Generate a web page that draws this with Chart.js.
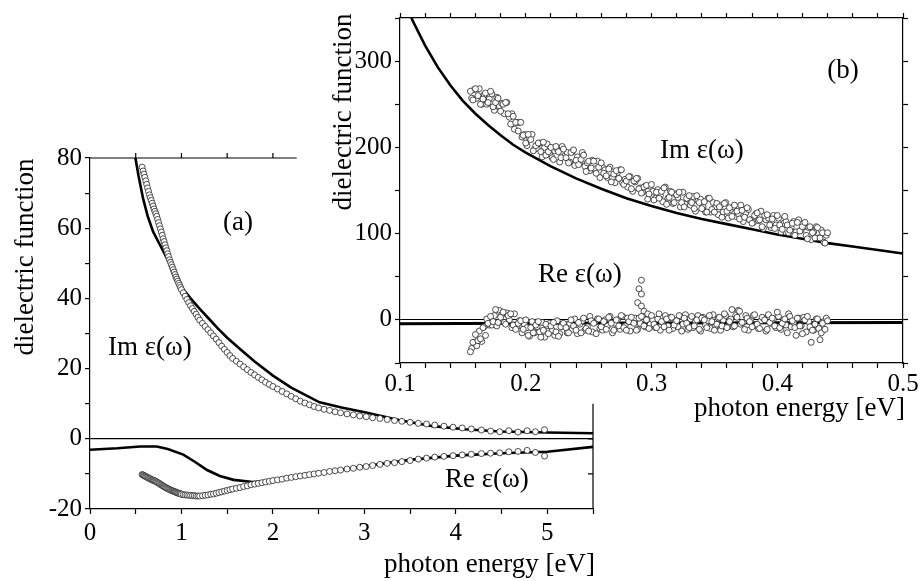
<!DOCTYPE html>
<html>
<head>
<meta charset="utf-8">
<script src="https://cdn.jsdelivr.net/npm/chart.js@4/dist/chart.umd.min.js"></script>
<style>
  body { margin: 0; background: #fff; }
  #wrap { position: relative; width: 920px; height: 581px; }
  canvas { position: absolute; left: 0; top: 0; }
</style>
</head>
<body>
<div id="wrap">
  <canvas id="mainChart" width="920" height="581"></canvas>
  <canvas id="insetChart" width="920" height="581"></canvas>
</div>
<script>
// ---- panel (a): 0 - 5.5 eV ----
const mainEnergy = [
  0.57, 0.58, 0.59, 0.60, 0.61, 0.62, 0.63, 0.64, 0.65, 0.66, 0.67, 0.68, 0.69, 0.70, 0.71,
  0.72, 0.73, 0.74, 0.75, 0.76, 0.77, 0.78, 0.79, 0.80, 0.81, 0.82, 0.83, 0.84, 0.85, 0.86,
  0.87, 0.88, 0.89, 0.90, 0.91, 0.92, 0.93, 0.94, 0.95, 0.96, 0.97, 0.98, 0.99, 1.00,
  1.02, 1.04, 1.06, 1.08, 1.10, 1.12, 1.14, 1.16, 1.18, 1.20,
  1.23, 1.26, 1.29, 1.32, 1.35, 1.38, 1.41, 1.44, 1.47, 1.50, 1.53, 1.56,
  1.60, 1.64, 1.68, 1.72, 1.76, 1.80, 1.84, 1.88, 1.92, 1.96, 2.00,
  2.05, 2.10, 2.15, 2.20, 2.25, 2.30, 2.35, 2.40, 2.45, 2.50,
  2.56, 2.62, 2.68, 2.74, 2.81, 2.88, 2.95, 3.02, 3.09, 3.17, 3.25, 3.33, 3.41,
  3.50, 3.59, 3.68, 3.77, 3.87, 3.97, 4.07, 4.17,
  4.28, 4.38, 4.48, 4.58, 4.68, 4.78, 4.87, 4.97
];
const mainImData = [
  77.4, 76.3, 75.4, 74.5, 73.5, 72.5, 71.5, 70.5, 69.5, 68.7, 67.9, 67.1, 66.3, 65.5, 64.8,
  64.1, 63.4, 62.5, 61.6, 60.7, 59.8, 58.9, 58.0, 57.0, 56.2, 55.3, 54.4, 53.6, 52.7, 51.9,
  51.0, 50.3, 49.6, 48.9, 48.2, 47.5, 46.8, 46.1, 45.5, 44.9, 44.3, 43.7, 43.1, 42.5,
  41.6, 40.6, 39.7, 38.8, 37.9, 37.1, 36.3, 35.5, 34.6, 33.8,
  32.9, 32.0, 31.1, 30.2, 29.3, 28.4, 27.4, 26.4, 25.5, 24.6, 23.7, 22.9,
  22.1, 21.3, 20.5, 19.7, 18.9, 18.2, 17.5, 16.8, 16.1, 15.5, 14.9,
  14.2, 13.5, 12.8, 12.1, 11.4, 10.7, 10.2, 9.7, 9.2, 8.8,
  8.4, 8.1, 7.7, 7.4, 7.1, 6.8, 6.5, 6.3, 6.0, 5.8, 5.5, 5.2, 5.0,
  4.7, 4.4, 4.2, 3.9, 3.6, 3.3, 3.1, 2.8,
  2.5, 2.2, 2.0, 2.3, 1.9, 2.3, 2.0, 2.6
];
const mainReData = [
  -10.2, -10.3, -10.5, -10.6, -10.8, -10.9, -11.0, -11.2, -11.3, -11.4, -11.6, -11.7, -11.8, -11.9, -12.0,
  -12.2, -12.3, -12.5, -12.6, -12.8, -13.0, -13.1, -13.3, -13.5, -13.6, -13.8, -13.9, -14.1, -14.2, -14.3,
  -14.5, -14.6, -14.7, -14.8, -14.9, -15.0, -15.1, -15.2, -15.4, -15.4, -15.5, -15.6, -15.7, -15.8,
  -15.9, -16.0, -16.0, -16.1, -16.1, -16.2, -16.2, -16.3, -16.3, -16.3,
  -16.2, -16.1, -16.0, -15.8, -15.7, -15.5, -15.3, -15.1, -14.9, -14.7, -14.5, -14.3,
  -14.1, -13.9, -13.6, -13.4, -13.1, -12.9, -12.7, -12.5, -12.3, -12.1, -11.9,
  -11.7, -11.5, -11.2, -11.0, -10.8, -10.6, -10.4, -10.2, -10.0, -9.8,
  -9.6, -9.3, -9.1, -8.9, -8.6, -8.4, -8.1, -7.9, -7.6, -7.3, -7.0, -6.8, -6.5,
  -6.2, -5.8, -5.5, -5.2, -5.0, -4.8, -4.6, -4.4,
  -4.2, -4.1, -4.0, -3.7, -3.6, -3.3, -3.9, -4.9
];
const mainImModelE = [0.47, 0.50, 0.53, 0.58, 0.63, 0.69, 0.76, 0.84, 0.92, 0.98, 1.02, 1.10, 1.20, 1.30, 1.40,
  1.50, 1.64, 1.80, 2.00, 2.20, 2.51, 2.75, 3.03, 3.40, 3.75, 4.10, 4.48, 5.00, 5.50];
const mainImModelV = [84, 79.5, 75, 68.5, 63.5, 59, 55.5, 51.5, 47.5, 44.3, 42.6, 40, 37, 34.2, 31.4,
  28.8, 25.6, 22, 18, 14.6, 10.4, 8.9, 7.4, 5.2, 3.6, 2.7, 2.1, 1.8, 1.6];
const mainReModelE = [0, 0.3, 0.55, 0.73, 0.85, 1.02, 1.15, 1.28, 1.42, 1.57, 1.78, 2.0, 2.5, 3.0, 3.5, 4.0, 4.5, 5.0, 5.5];
const mainReModelV = [-3.1, -2.7, -2.2, -2.2, -2.9, -4.5, -6.6, -8.9, -10.6, -11.7, -12.3, -12.0, -9.8, -7.8, -6.0, -4.8, -4.1, -3.7, -2.3];
const mainXLabels = [0, 1, 2, 3, 4, 5];
const mainYLabels = [-20, 0, 20, 40, 60, 80];

// ---- panel (b): 0.1 - 0.5 eV, two interleaved runs of the measurement ----
const insetEnergy = [
  0.156, 0.158, 0.160, 0.162, 0.164, 0.166, 0.168, 0.170, 0.172, 0.174,
  0.176, 0.178, 0.180, 0.182, 0.184, 0.186, 0.188, 0.190, 0.192, 0.194,
  0.196, 0.198, 0.200, 0.202, 0.204, 0.206, 0.208, 0.210, 0.212, 0.214,
  0.216, 0.218, 0.220, 0.222, 0.224, 0.226, 0.228, 0.230, 0.232, 0.234,
  0.236, 0.238, 0.240, 0.242, 0.244, 0.246, 0.248, 0.250, 0.252, 0.254,
  0.256, 0.258, 0.260, 0.262, 0.264, 0.266, 0.268, 0.270, 0.272, 0.274,
  0.276, 0.278, 0.280, 0.282, 0.284, 0.286, 0.288, 0.290, 0.292, 0.294,
  0.296, 0.298, 0.300, 0.302, 0.304, 0.306, 0.308, 0.310, 0.312, 0.314,
  0.316, 0.318, 0.320, 0.322, 0.324, 0.326, 0.328, 0.330, 0.332, 0.334,
  0.336, 0.338, 0.340, 0.342, 0.344, 0.346, 0.348, 0.350, 0.352, 0.354,
  0.356, 0.358, 0.360, 0.362, 0.364, 0.366, 0.368, 0.370, 0.372, 0.374,
  0.376, 0.378, 0.380, 0.382, 0.384, 0.386, 0.388, 0.390, 0.392, 0.394,
  0.396, 0.398, 0.400, 0.402, 0.404, 0.406, 0.408, 0.410, 0.412, 0.414,
  0.416, 0.418, 0.420, 0.422, 0.424, 0.426, 0.428, 0.430, 0.432, 0.434,
  0.436, 0.438, 0.440
];
const insetImData = [
  265, 255, 268, 260, 250, 256, 263, 252, 265, 247,
  252, 257, 242, 250, 252, 239, 227, 236, 229, 219,
  229, 214, 205, 215, 209, 196, 202, 205, 195, 206,
  191, 195, 200, 186, 201, 195, 188, 198, 188, 182,
  194, 197, 185, 180, 186, 191, 172, 184, 176, 184,
  170, 177, 182, 170, 167, 175, 160, 169, 173, 164,
  174, 157, 161, 166, 152, 161, 164, 152, 147, 154,
  156, 146, 157, 139, 148, 141, 149, 153, 134, 142,
  148, 136, 145, 148, 136, 131, 141, 144, 136, 129,
  144, 136, 129, 137, 125, 141, 128, 125, 135, 131,
  119, 135, 126, 130, 120, 133, 126, 117, 127, 119,
  130, 116, 112, 121, 124, 116, 108, 121, 122, 110,
  117, 106, 121, 110, 105, 120, 110, 104, 112, 98,
  113, 103, 108, 113, 94, 108, 101, 95, 107, 95,
  101, 89, 101
];
const insetReData = [
  -37, -26, -17, -24, -22, -9, -18, -4, 4, -2,
  12, -3, 3, 9, -5, 5, 7, -6, -11, -4,
  -1, -11, 0, -18, -9, -15, -6, -2, -20, -12,
  -5, -16, -7, -3, -14, -19, -8, -4, -9, -15,
  0, -7, -12, -3, -15, 2, -10, -13, -1, -4,
  -16, 1, -8, -2, -11, 3, -4, -12, 0, -7,
  5, -9, -12, -2, 3, -4, -12, 2, 4, -7,
  0, -10, 5, -5, -9, 7, -2, -8, 1, -12,
  3, -6, -1, 5, -13, 2, -4, -9, 4, -7,
  0, -11, 2, 0, -9, 5, -2, -12, -5, 3,
  -7, 7, -9, -2, 12, -7, 3, 10, -3, -11,
  2, -2, -8, 6, -5, -10, 3, 0, -11, -3,
  2, -7, 9, -9, -4, 1, -15, 4, -1, -9,
  2, -7, -16, 0, 4, -8, -12, -5, 1, -23,
  -4, -11, -1
];
const insetEnergy2 = [
  0.157, 0.159, 0.161, 0.163, 0.165, 0.167, 0.169, 0.171, 0.173, 0.175,
  0.177, 0.179, 0.181, 0.183, 0.185, 0.187, 0.189, 0.191, 0.193, 0.195,
  0.197, 0.199, 0.201, 0.203, 0.205, 0.207, 0.209, 0.211, 0.213, 0.215,
  0.217, 0.219, 0.221, 0.223, 0.225, 0.227, 0.229, 0.231, 0.233, 0.235,
  0.237, 0.239, 0.241, 0.243, 0.245, 0.247, 0.249, 0.251, 0.253, 0.255,
  0.257, 0.259, 0.261, 0.263, 0.265, 0.267, 0.269, 0.271, 0.273, 0.275,
  0.277, 0.279, 0.281, 0.283, 0.285, 0.287, 0.289, 0.291, 0.293, 0.295,
  0.297, 0.299, 0.301, 0.303, 0.305, 0.307, 0.309, 0.311, 0.313, 0.315,
  0.317, 0.319, 0.321, 0.323, 0.325, 0.327, 0.329, 0.331, 0.333, 0.335,
  0.337, 0.339, 0.341, 0.343, 0.345, 0.347, 0.349, 0.351, 0.353, 0.355,
  0.357, 0.359, 0.361, 0.363, 0.365, 0.367, 0.369, 0.371, 0.373, 0.375,
  0.377, 0.379, 0.381, 0.383, 0.385, 0.387, 0.389, 0.391, 0.393, 0.395,
  0.397, 0.399, 0.401, 0.403, 0.405, 0.407, 0.409, 0.411, 0.413, 0.415,
  0.417, 0.419, 0.421, 0.423, 0.425, 0.427, 0.429, 0.431, 0.433, 0.435,
  0.437, 0.439
];
const insetImData2 = [
  257, 267, 257, 268, 250, 261, 250, 256, 262, 243,
  258, 248, 251, 239, 252, 235, 239, 221, 229, 229,
  212, 215, 202, 211, 215, 198, 199, 205, 189, 200,
  204, 192, 188, 196, 198, 183, 201, 190, 194, 183,
  195, 179, 189, 182, 194, 178, 182, 173, 185, 175,
  184, 165, 177, 174, 165, 177, 165, 159, 171, 174,
  159, 163, 154, 166, 149, 160, 164, 153, 148, 155,
  140, 155, 149, 141, 151, 144, 137, 154, 141, 149,
  135, 146, 142, 131, 148, 134, 140, 133, 143, 126,
  138, 140, 131, 125, 141, 125, 136, 131, 122, 133,
  125, 136, 118, 128, 131, 120, 123, 133, 114, 124,
  128, 116, 113, 123, 115, 126, 106, 116, 118, 107,
  121, 110, 118, 102, 112, 114, 101, 107, 114, 102,
  116, 104, 108, 98, 107, 93, 102, 108, 95, 104,
  90, 98
];
const insetReData2 = [
  -33, -26, -30, -13, -25, -8, 1, -6, -6, 5,
  -7, 11, 6, -3, 8, 0, -9, 7, -8, -1,
  -15, -5, -9, -19, -2, -15, -8, -14, -3, -20,
  -7, -4, -12, -18, -1, -16, -5, -8, -15, -4,
  -11, 1, -16, -5, -1, -12, -8, 4, -14, -3,
  1, -10, -12, 0, -7, 4, -15, -4, 0, -11,
  4, -7, 2, -13, -1, 2, -11, -4, 4, -8,
  7, -5, 0, -9, 1, -12, -2, 5, -7, 3,
  -10, -1, -8, 4, -5, 6, -11, 1, -9, -2,
  5, -13, 3, -6, -1, -10, 6, -7, 2, -12,
  0, 5, -8, 1, -8, 5, 11, -5, -3, 5,
  -12, 0, 5, -7, -10, -1, 2, -13, 6, -4,
  1, -9, 4, -11, 0, -6, 7, -8, -3, -18,
  2, -7, 3, -14, -2, -26, -12, 1, -10, -15,
  -2, 2
];
const insetSpikeE = [0.289, 0.290, 0.292, 0.292, 0.292, 0.294];
const insetSpikeV = [20, 36, 46, 30, 16, 10];
const insetImModelE = [0.105, 0.11, 0.12, 0.13, 0.14, 0.15, 0.16, 0.17, 0.18, 0.19, 0.20, 0.22, 0.24,
  0.26, 0.28, 0.30, 0.32, 0.34, 0.36, 0.38, 0.40, 0.42, 0.44, 0.46, 0.48, 0.50];
const insetImModelV = [368, 347, 318, 293, 272, 254, 239, 226, 214, 203, 194, 178, 164,
  152, 141, 132, 124, 117, 111, 105, 99, 94, 89, 85, 81, 77];
const insetReModelE = [0.1, 0.2, 0.3, 0.4, 0.5];
const insetReModelV = [-4.5, -4, -3.5, -3.2, -3];
const insetXLabels = ['0.1', '0.2', '0.3', '0.4', '0.5'];
const insetYLabels = [0, 100, 200, 300];

// where the inset box cuts the frame of panel (a)
const mainTopAxisEnd = 2.26;
const mainRightAxisStart = 10;

const FONT = 'Liberation Serif, Times New Roman, serif';
const tickFont = { family: FONT, size: 25 };
const labelFont = '27px ' + FONT;

function pairs(xs, ys) {
  return xs.map((x, i) => ({ x: x, y: ys[i] }));
}

function circles(xs, ys) {
  return {
    data: pairs(xs, ys),
    showLine: false,
    pointStyle: 'circle',
    pointRadius: 3,
    pointBorderWidth: 0.8,
    pointBorderColor: '#222',
    pointBackgroundColor: '#fff',
    order: 1
  };
}

function curve(xs, ys, width) {
  return {
    data: pairs(xs, ys),
    showLine: true,
    borderColor: '#000',
    borderWidth: width,
    pointRadius: 0,
    fill: false,
    order: 2
  };
}

function zeroGrid(ctx) {
  return ctx.tick && ctx.tick.value === 0 ? '#000' : 'rgba(0,0,0,0)';
}

// free text: titles and curve labels
function textPlugin(items) {
  return {
    id: 'texts',
    afterDraw(chart) {
      const ctx = chart.ctx;
      ctx.save();
      ctx.fillStyle = '#000';
      ctx.font = labelFont;
      ctx.textBaseline = 'alphabetic';
      items.forEach(t => {
        ctx.save();
        ctx.translate(t.x, t.y);
        if (t.rotate) ctx.rotate(-Math.PI / 2);
        ctx.textAlign = t.align;
        ctx.fillText(t.text, 0, 0);
        ctx.restore();
      });
      ctx.restore();
    }
  };
}

// top and right frame of panel (a), partly hidden by the inset
const partialFrame = {
  id: 'partialFrame',
  afterDraw(chart) {
    const { ctx } = chart;
    const x = chart.scales.x, y = chart.scales.y;
    const top = y.getPixelForValue(y.max);
    const right = x.getPixelForValue(x.max);
    ctx.save();
    ctx.strokeStyle = '#000';
    ctx.lineWidth = 1.2;
    ctx.beginPath();
    ctx.moveTo(x.left, top);
    ctx.lineTo(x.getPixelForValue(mainTopAxisEnd), top);
    x.ticks.forEach(t => {
      if (t.value > x.min && t.value < mainTopAxisEnd) {
        const px = x.getPixelForValue(t.value);
        ctx.moveTo(px, top);
        ctx.lineTo(px, top - 5);
      }
    });
    ctx.moveTo(right, y.getPixelForValue(mainRightAxisStart));
    ctx.lineTo(right, y.bottom);
    y.ticks.forEach(t => {
      if (t.value < mainRightAxisStart && t.value > y.min) {
        const py = y.getPixelForValue(t.value);
        ctx.moveTo(right, py);
        ctx.lineTo(right - 5, py);
      }
    });
    ctx.stroke();
    ctx.restore();
  }
};

const whiteArea = {
  id: 'whiteArea',
  beforeDraw(chart) {
    const a = chart.chartArea;
    chart.ctx.save();
    chart.ctx.fillStyle = '#fff';
    chart.ctx.fillRect(a.left, a.top, a.right - a.left, a.bottom - a.top);
    chart.ctx.restore();
  }
};

const axisBorder = { color: '#000', width: 1.2 };

new Chart(document.getElementById('mainChart'), {
  type: 'scatter',
  data: {
    datasets: [
      circles(mainEnergy, mainImData),
      circles(mainEnergy, mainReData),
      curve(mainImModelE, mainImModelV, 2.6),
      curve(mainReModelE, mainReModelV, 2.6)
    ]
  },
  options: {
    responsive: false,
    animation: false,
    devicePixelRatio: 1,
    layout: { padding: { left: 0, right: 327, top: 158, bottom: 0 } },
    plugins: { legend: { display: false }, tooltip: { enabled: false } },
    scales: {
      x: {
        type: 'linear', min: 0, max: 5.5,
        afterFit: s => { s.height = 72; },
        border: axisBorder,
        grid: { drawOnChartArea: false, tickLength: 5, tickColor: '#000', tickWidth: 1.2 },
        ticks: {
          stepSize: 0.5, autoSkip: false, maxRotation: 0, padding: 4,
          color: '#000', font: tickFont,
          callback: v => mainXLabels.includes(v) ? String(v) : ''
        }
      },
      y: {
        type: 'linear', min: -20, max: 80,
        afterFit: s => { s.width = 90; },
        border: axisBorder,
        grid: { drawOnChartArea: true, color: zeroGrid, lineWidth: 1.2, tickLength: 5, tickColor: '#000', tickWidth: 1.2 },
        ticks: {
          stepSize: 10, autoSkip: false, padding: 3,
          color: '#000', font: tickFont,
          callback: v => mainYLabels.includes(v) ? String(v) : ''
        }
      }
    }
  },
  plugins: [partialFrame, textPlugin([
    { text: 'dielectric function', x: 33, y: 257, align: 'center', rotate: true },
    { text: 'photon energy [eV]', x: 595, y: 572, align: 'right' },
    { text: '(a)', x: 238, y: 230, align: 'center' },
    { text: 'Im ε(ω)', x: 108, y: 355, align: 'left' },
    { text: 'Re ε(ω)', x: 445, y: 487, align: 'left' }
  ])]
});

new Chart(document.getElementById('insetChart'), {
  type: 'scatter',
  data: {
    datasets: [
      circles(insetEnergy, insetImData),
      circles(insetEnergy2, insetImData2),
      circles(insetEnergy, insetReData),
      circles(insetEnergy2, insetReData2),
      circles(insetSpikeE, insetSpikeV),
      curve(insetImModelE, insetImModelV, 2.6),
      curve(insetReModelE, insetReModelV, 3)
    ]
  },
  options: {
    responsive: false,
    animation: false,
    devicePixelRatio: 1,
    layout: { padding: { left: 0, right: 12, top: 8, bottom: 0 } },
    plugins: { legend: { display: false }, tooltip: { enabled: false } },
    scales: {
      x: {
        type: 'linear', min: 0.1, max: 0.5,
        afterFit: s => { s.height = 218; },
        border: axisBorder,
        grid: { drawOnChartArea: false, tickLength: 5, tickColor: '#000', tickWidth: 1.2 },
        ticks: {
          stepSize: 0.02, autoSkip: false, maxRotation: 0, padding: 1,
          color: '#000', font: tickFont,
          callback: v => insetXLabels.includes(v.toFixed(1)) && Math.abs(v * 10 - Math.round(v * 10)) < 1e-6 ? v.toFixed(1) : ''
        }
      },
      x2: {
        type: 'linear', position: 'top', min: 0.1, max: 0.5,
        afterFit: s => { s.height = 5; },
        border: axisBorder,
        grid: { drawOnChartArea: false, tickLength: 5, tickColor: '#000', tickWidth: 1.2 },
        ticks: { stepSize: 0.02, autoSkip: false, maxRotation: 0, callback: () => '' }
      },
      y: {
        type: 'linear', min: -50, max: 350,
        afterFit: s => { s.width = 400; },
        border: axisBorder,
        grid: { drawOnChartArea: true, color: zeroGrid, lineWidth: 1, tickLength: 5, tickColor: '#000', tickWidth: 1.2 },
        ticks: {
          stepSize: 50, autoSkip: false, padding: 3,
          color: '#000', font: tickFont,
          callback: v => insetYLabels.includes(v) ? String(v) : ''
        }
      },
      y2: {
        type: 'linear', position: 'right', min: -50, max: 350,
        afterFit: s => { s.width = 5; },
        border: axisBorder,
        grid: { drawOnChartArea: false, tickLength: 5, tickColor: '#000', tickWidth: 1.2 },
        ticks: { stepSize: 50, autoSkip: false, callback: () => '' }
      }
    }
  },
  plugins: [whiteArea, textPlugin([
    { text: 'dielectric function', x: 351, y: 112, align: 'center', rotate: true },
    { text: 'photon energy [eV]', x: 905, y: 416, align: 'right' },
    { text: '(b)', x: 843, y: 78, align: 'center' },
    { text: 'Im ε(ω)', x: 660, y: 158, align: 'left' },
    { text: 'Re ε(ω)', x: 538, y: 282, align: 'left' }
  ])]
});
</script>
</body>
</html>
